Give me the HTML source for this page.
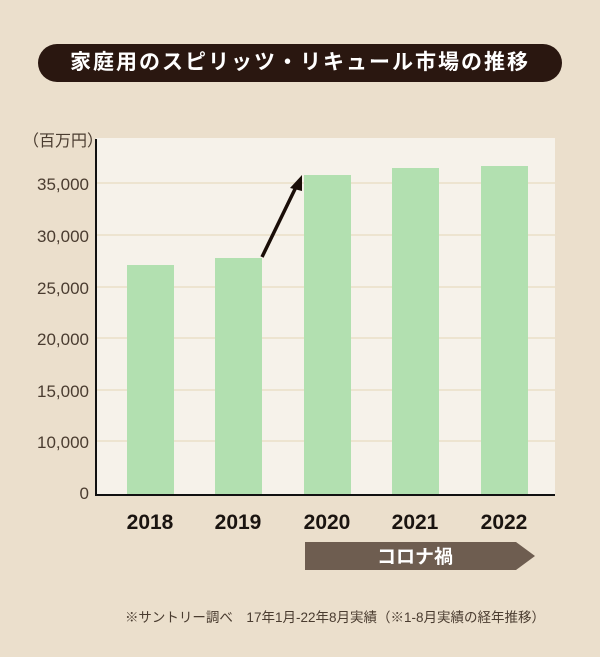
<!DOCTYPE html>
<html><head><meta charset="utf-8"><style>
body{margin:0;width:600px;height:657px;background:#ebdfcc;font-family:"Liberation Sans","Noto Sans CJK JP",sans-serif;position:relative;overflow:hidden}
.t{position:absolute}
</style></head><body>
<div class="t" style="left:38px;top:44px;width:524px;height:38px;background:#2a1710;border-radius:19px;color:#fff;font-size:21px;font-weight:bold;text-align:center;line-height:38px;letter-spacing:2px">家庭用のスピリッツ・リキュール市場の推移</div>
<svg class="t" style="left:0;top:0" width="600" height="657">
<rect x="96" y="138" width="459" height="357" fill="#f6f2ea"/>
<g stroke="#e8dcc0" stroke-width="1.2">
<line x1="96" x2="555" y1="183" y2="183"/><line x1="96" x2="555" y1="235" y2="235"/><line x1="96" x2="555" y1="287" y2="287"/><line x1="96" x2="555" y1="338" y2="338"/><line x1="96" x2="555" y1="390" y2="390"/><line x1="96" x2="555" y1="441" y2="441"/>
</g>
<g fill="#b2e0b0">
<rect x="127" y="265" width="47" height="229"/><rect x="215" y="258" width="47" height="236"/><rect x="304" y="175" width="47" height="319"/><rect x="392" y="168" width="47" height="326"/><rect x="481" y="166" width="47" height="328"/>
</g>
<line x1="96" y1="139" x2="96" y2="495" stroke="#111" stroke-width="2"/>
<line x1="95" y1="495" x2="555" y2="495" stroke="#111" stroke-width="2"/>
<line x1="262" y1="257" x2="296" y2="187" stroke="#1a0e08" stroke-width="3.5"/>
<polygon points="302,175 290,188 302,191" fill="#1a0e08"/>
<polygon points="305,542 516,542 535,556 516,570 305,570" fill="#6e5d50"/>
<g font-size="17" fill="#4a3c30" text-anchor="end" font-family="Liberation Sans,sans-serif">
<text x="89" y="190">35,000</text><text x="89" y="242">30,000</text><text x="89" y="294">25,000</text><text x="89" y="345">20,000</text><text x="89" y="397">15,000</text><text x="89" y="448">10,000</text><text x="89" y="499">0</text>
</g>
<text x="23" y="146" font-size="16" fill="#4a3c30" font-family="Liberation Sans,Noto Sans CJK JP,sans-serif">（百万円）</text>
<g font-size="21" font-weight="bold" fill="#1a1410" text-anchor="middle" font-family="Liberation Sans,sans-serif">
<text x="150" y="529">2018</text><text x="238" y="529">2019</text><text x="327" y="529">2020</text><text x="415" y="529">2021</text><text x="504" y="529">2022</text>
</g>
<text x="415" y="563" font-size="19" fill="#fff" font-weight="bold" text-anchor="middle" font-family="Liberation Sans,Noto Sans CJK JP,sans-serif">コロナ禍</text>
<text x="545" y="622" font-size="13.5" fill="#4a3c30" text-anchor="end" font-family="Liberation Sans,Noto Sans CJK JP,sans-serif">※サントリー調べ　17年1月-22年8月実績（※1-8月実績の経年推移）</text>
</svg>
</body></html>
